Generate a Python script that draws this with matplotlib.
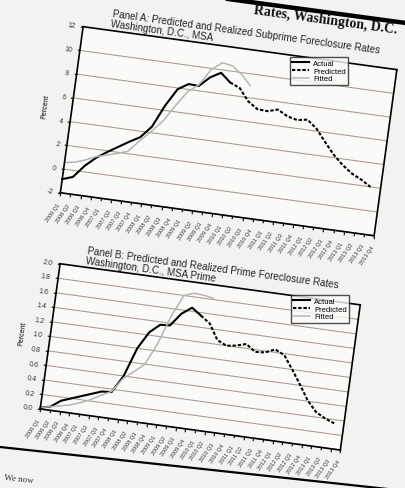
import numpy as np
import matplotlib
matplotlib.use("Agg")
import matplotlib.pyplot as plt
from matplotlib.transforms import Affine2D
import mpl_toolkits.axisartist.floating_axes as floating_axes
from mpl_toolkits.axisartist.grid_finder import FixedLocator, DictFormatter

W, H = 406, 489
TILT = -7.8  # the page is photographed at a slant

quarters = [f"{y} Q{q}" for y in range(2006, 2014) for q in range(1, 5)]

# Panel A: subprime foreclosure rates (percent), quarter index 0 = 2006 Q1
sub_actual = [-0.85, -0.55, 0.5, 1.3, 1.9, 2.45, 3.0, 3.5, 4.5, 6.4, 7.9, 8.45,
              8.4, 9.25, 9.75, 9.05]
sub_predicted = [9.05, 8.7, 7.7, 7.15, 7.1, 7.35, 6.9, 6.7, 6.85, 6.2, 5.2, 4.25,
                 3.5, 2.9, 2.5, 2.0]
sub_fitted = [0.55, 0.7, 1.0, 1.4, 1.65, 1.9, 2.2, 3.2, 4.1, 5.1, 6.5, 7.8,
              8.5, 9.9, 10.6, 10.45, 9.85, 9.0]
sub_yticks = [-2, 0, 2, 4, 6, 8, 10, 12]
sub_ylabels = ["-2", "0", "2", "4", "6", "8", "10", "12"]

# Panel B: prime foreclosure rates (percent)
prime_actual = [0.02, 0.05, 0.15, 0.2, 0.25, 0.3, 0.35, 0.36, 0.6, 1.0, 1.24, 1.36,
                1.37, 1.55, 1.65, 1.56]
prime_predicted = [1.56, 1.47, 1.26, 1.2, 1.22, 1.26, 1.17, 1.18, 1.24, 1.18, 1.0,
                   0.81, 0.61, 0.47, 0.4, 0.35]
prime_fitted = [0.02, 0.05, 0.08, 0.11, 0.16, 0.22, 0.3, 0.37, 0.57, 0.68, 0.8, 1.1,
                1.5, 1.8, 1.85, 1.84, 1.82]
prime_yticks = [0.0, 0.2, 0.4, 0.6, 0.8, 1.0, 1.2, 1.4, 1.6, 1.8, 2.0]
prime_ylabels = ["0.0", "0.2", "0.4", "0.6", "0.8", "1.0", "1.2", "1.4", "1.6", "1.8", "2.0"]

plt.rcParams['font.family'] = ['Liberation Sans', 'DejaVu Sans']

fig = plt.figure(figsize=(W / 100, H / 100), dpi=100, facecolor='#f2f2f0')


def fig_xy(px, py):
    return px / W, 1 - py / H


def panel(bl, w, h, ymin, ymax, yticks, ylabels):
    a = np.deg2rad(-TILT)
    c, s = np.cos(a), np.sin(a)
    bw = w * c + h * s
    bh = w * s + h * c
    top = bl[1] - h * c
    rect = [bl[0] / W, 1 - (top + bh) / H, bw / W, bh / H]
    tr = Affine2D().scale(w / 31, h / (ymax - ymin)).rotate_deg(TILT)
    # nudge the bottom tick just inside the frame so its label keeps the page angle
    ylocs = [yticks[0] + 1e-3 * (ymax - ymin)] + list(yticks[1:])
    gh = floating_axes.GridHelperCurveLinear(
        tr, extremes=(0, 31, ymin, ymax),
        grid_locator1=FixedLocator(list(range(32))),
        tick_formatter1=DictFormatter(dict(enumerate(quarters))),
        grid_locator2=FixedLocator(ylocs),
        tick_formatter2=DictFormatter(dict(zip(ylocs, ylabels))))
    ax = floating_axes.FloatingAxes(fig, rect, grid_helper=gh)
    fig.add_axes(ax)
    ax.patch.set_facecolor('#fafaf9')
    ax.grid(True, axis='y', color='#a8988f', linewidth=0.75)
    for side in ["left", "bottom", "right", "top"]:
        ax.axis[side].line.set_linewidth(1.2)
    for side in ["right", "top"]:
        ax.axis[side].toggle(ticks=False, ticklabels=False, label=False)
    bot = ax.axis["bottom"]
    bot.major_ticks.set_tick_out(True)
    bot.major_ticks.set_ticksize(2)
    bot.major_ticklabels.set_rotation(63)
    bot.major_ticklabels.set_ha('right')
    bot.major_ticklabels.set_va('center')
    bot.major_ticklabels.set_fontsize(4)
    bot.major_ticklabels.set_color('#333333')
    left = ax.axis["left"]
    left.major_ticks.set_tick_out(True)
    left.major_ticks.set_ticksize(2)
    left.major_ticklabels.set_fontsize(5)
    left.major_ticklabels.set_color('#333333')
    left.label.set_text("Percent")
    left.label.set_fontsize(5)
    aux = ax.get_aux_axes(tr)
    return ax, aux


def draw_series(aux, actual, predicted, fitted):
    q = np.arange(len(quarters))
    start = len(actual) - 1
    l1, = aux.plot(q[:len(actual)], actual, color='black', lw=1.5, label='Actual')
    l2, = aux.plot(q[start:start + len(predicted)], predicted, color='black', lw=1.5,
                   dashes=(1.6, 0.9), label='Predicted')
    l3, = aux.plot(q[:len(fitted)], fitted, color='#b5b5b5', lw=1.1, label='Fitted')
    return [l1, l2, l3]


axA, auxA = panel((57, 195), 323, 171, -2, 12, sub_yticks, sub_ylabels)
hA = draw_series(auxA, sub_actual, sub_predicted, sub_fitted)
axB, auxB = panel((37, 411), 309, 149.5, 0.0, 2.0, prime_yticks, prime_ylabels)
hB = draw_series(auxB, prime_actual, prime_predicted, prime_fitted)

for handles, cx, cy in [(hA, 319, 72), (hB, 320, 310)]:
    leg = fig.legend(handles, [h.get_label() for h in handles], loc='center',
                     bbox_to_anchor=fig_xy(cx, cy), fontsize=5.5, frameon=True,
                     fancybox=False, edgecolor='#222222', handlelength=2.2,
                     borderpad=0.3, labelspacing=0.05, handletextpad=0.5)
    leg.get_frame().set_linewidth(1.0)
    leg.get_frame().set_facecolor('#fafaf9')

# panel titles
fig.text(*fig_xy(113, 9), "Panel A: Predicted and Realized Subprime Foreclosure Rates\n"
         "Washington, D.C., MSA", rotation=TILT, rotation_mode='anchor',
         ha='left', va='top', fontsize=7.1, color='#222222', linespacing=1.0)
fig.text(*fig_xy(88, 246), "Panel B: Predicted and Realized Prime Foreclosure Rates\n"
         "Washington, D.C., MSA Prime", rotation=TILT, rotation_mode='anchor',
         ha='left', va='top', fontsize=7.1, color='#222222', linespacing=1.0)

# page furniture around the figure
fig.text(*fig_xy(255, 4), "Rates, Washington, D.C.", rotation=TILT,
         rotation_mode='anchor', ha='left', va='top', fontsize=10,
         family='Liberation Serif', weight='bold', color='#111111')
fig.add_artist(plt.Line2D([228 / W, 1.0], [1 - 0 / H, 1 - 24 / H], color='black', lw=3.2))
fig.add_artist(plt.Line2D([0, 1.0], [1 - 448 / H, 1 - 492 / H], color='black', lw=1.6))
fig.text(*fig_xy(4, 480), "We now", rotation=-6, rotation_mode='anchor', ha='left',
         va='baseline', fontsize=6.5, family='Liberation Serif', color='#333333')

fig.savefig('out.png', dpi=100, facecolor=fig.get_facecolor())
